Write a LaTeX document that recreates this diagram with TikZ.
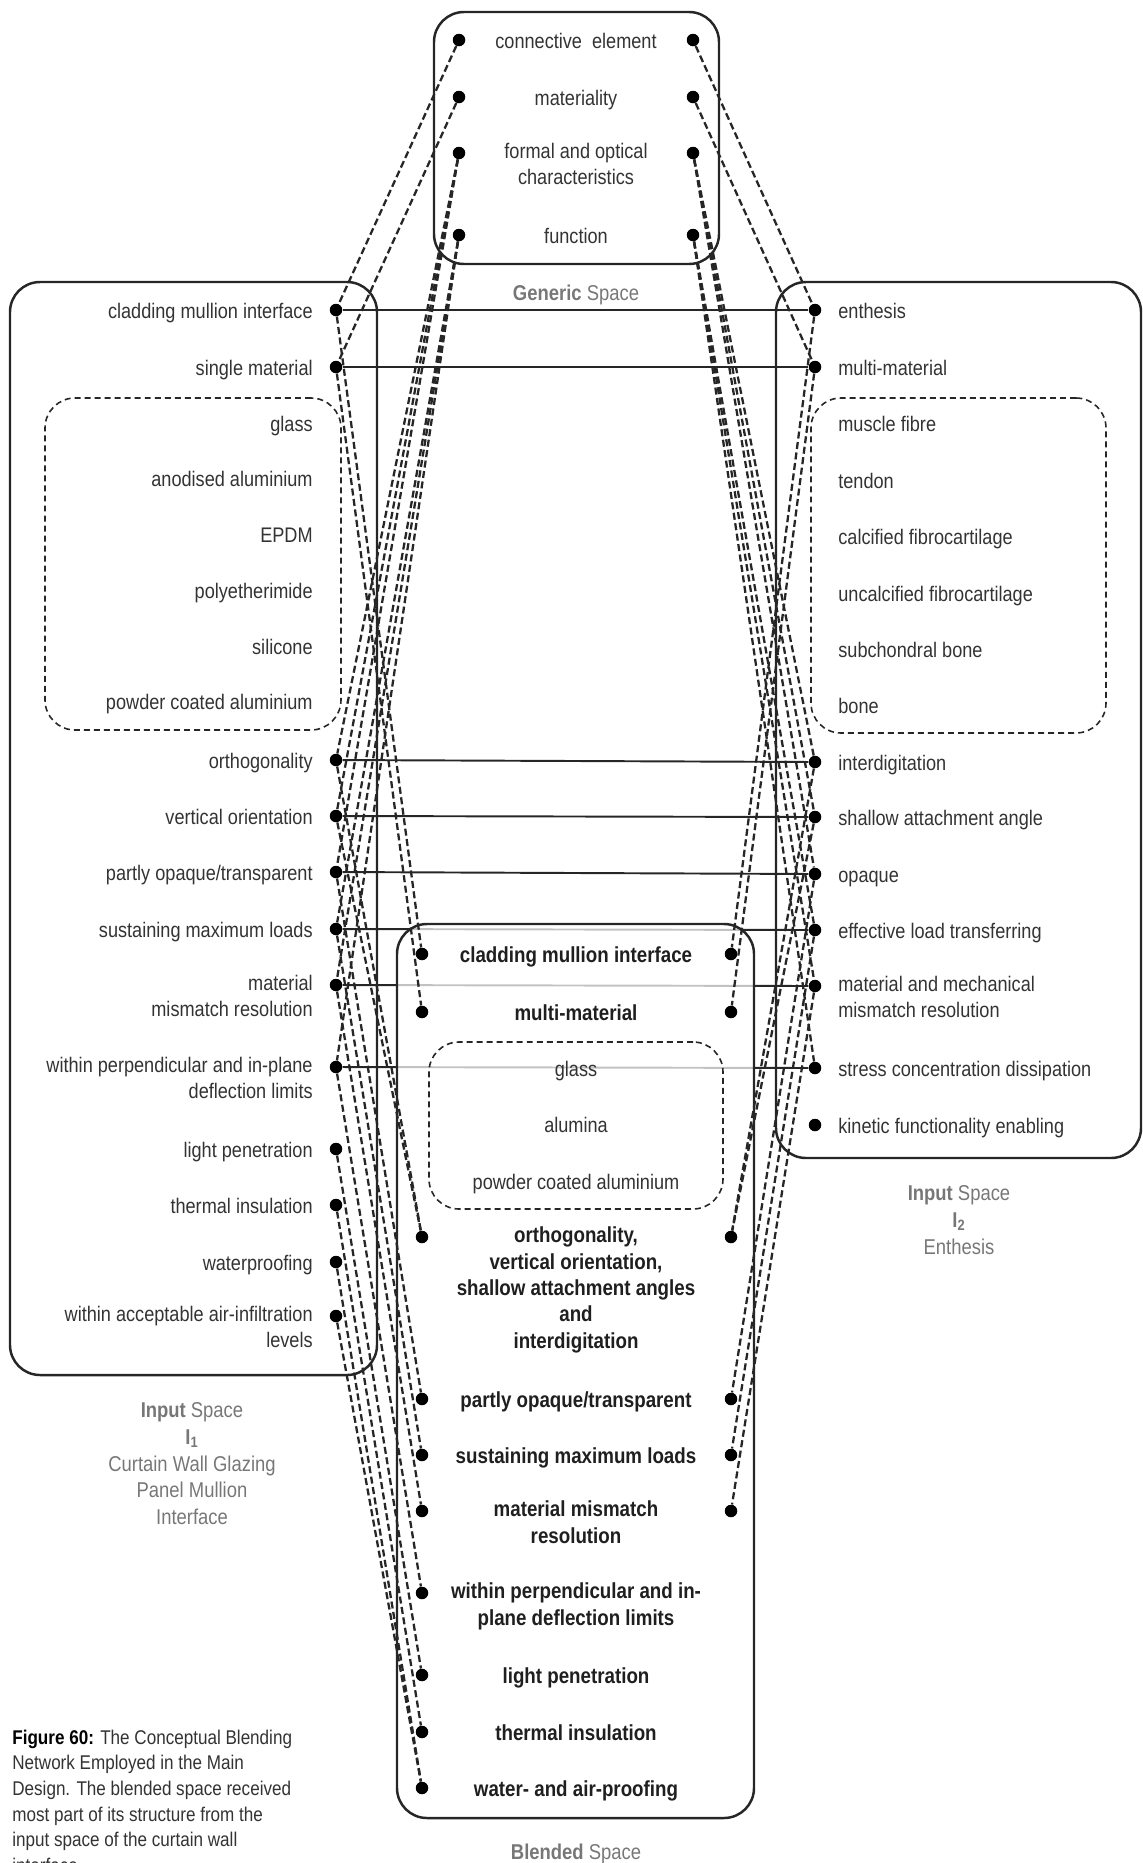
\documentclass[tikz,border=0pt]{standalone}
\usepackage{fontspec}
\setmainfont{Liberation Sans}[FakeStretch=0.86]
\usetikzlibrary{positioning,backgrounds}
\definecolor{ink}{HTML}{333333}
\definecolor{spacegrey}{HTML}{777777}
\newcommand{\itemfont}{\fontsize{12}{14.8}\selectfont}
\newcommand{\genitem}[3]{\node[dot] (gl#1) at (9.18,#2) {};
  \node[dot] (gr#1) at (13.86,#2) {};
  \node[midtext] (gen#1) at (11.52,#2) {#3};}
\newcommand{\leftitem}[3]{\node[dot] (#1) at (6.72,#2) {};
  \node[lefttext] (#1-t) at ([xshift=-0.46cm]#1.center) {#3};}
\newcommand{\rightitem}[3]{\node[dot] (#1) at (16.3,#2) {};
  \node[righttext] (#1-t) at ([xshift=0.46cm]#1.center) {#3};}

\begin{document}
\begin{tikzpicture}[
  dot/.style={circle,fill=black,inner sep=0pt,minimum size=0.25cm},
  basetext/.style={inner sep=0pt,text=ink,font=\itemfont,
    execute at begin node=\strut,yshift=5.9pt},
  lefttext/.style={basetext,anchor=north east,align=right},
  righttext/.style={basetext,anchor=north west,align=left},
  midtext/.style={basetext,anchor=north,align=center},
  blendtext/.style={midtext,text=black!88,font=\fontsize{12.4}{15}\selectfont\bfseries},
  spacetext/.style={midtext,text=spacegrey,font=\fontsize{12.2}{15.1}\selectfont},
  captiontext/.style={basetext,anchor=north west,align=left,
    font=\fontsize{11.3}{14.6}\selectfont,yshift=-1pt},
  frame/.style={draw=black!85,line width=1.4pt,rounded corners=0.6cm,inner sep=0pt},
  subframe/.style={frame,line width=0.9pt,dash pattern=on 3.4pt off 2.3pt},
  link/.style={draw=black!85,line width=1.3pt,dash pattern=on 4pt off 2pt},
  mapping/.style={draw=black!85,line width=1.1pt}]
\useasboundingbox (0,0) rectangle (22.86,-37.26);

% generic space
\genitem{1}{-0.80}{connective\ \ element}
\genitem{2}{-1.94}{materiality}
\genitem{3}{-3.06}{formal and optical\\characteristics}
\genitem{4}{-4.70}{function}
\node[spacetext] (genlabel) at (11.52,-5.84) {\textbf{Generic} Space};

% input space 1
\leftitem{lcmi}{-6.20}{cladding mullion interface}
\leftitem{lsm}{-7.34}{single material}
\node[lefttext] (lglass) at (6.26,-8.46) {glass};
\node[lefttext] (lanod) at (6.26,-9.56) {anodised aluminium};
\node[lefttext] (lepdm) at (6.26,-10.68) {EPDM};
\node[lefttext] (lpei) at (6.26,-11.80) {polyetherimide};
\node[lefttext] (lsil) at (6.26,-12.92) {silicone};
\node[lefttext] (lpca) at (6.26,-14.02) {powder coated aluminium};
\leftitem{lorth}{-15.20}{orthogonality}
\leftitem{lvert}{-16.32}{vertical orientation}
\leftitem{lpart}{-17.44}{partly opaque/transparent}
\leftitem{lsust}{-18.58}{sustaining maximum loads}
\leftitem{lmism}{-19.70}{material\\mismatch resolution}
\leftitem{ldefl}{-21.34}{within perpendicular and in-plane\\deflection limits}
\leftitem{llight}{-22.98}{light penetration}
\leftitem{ltherm}{-24.10}{thermal insulation}
\leftitem{lwater}{-25.24}{waterproofing}
\leftitem{lair}{-26.32}{within acceptable air-infiltration\\levels}
\node[spacetext] (inlabel1) at (3.84,-28.26)
  {\textbf{Input} Space\\\textbf{I\textsubscript{1}}\\Curtain Wall Glazing\\Panel Mullion\\Interface};

% input space 2
\rightitem{renth}{-6.20}{enthesis}
\rightitem{rmulti}{-7.34}{multi-material}
\node[righttext] (rmusc) at (16.76,-8.46) {muscle fibre};
\node[righttext] (rtend) at (16.76,-9.60) {tendon};
\node[righttext] (rcalc) at (16.76,-10.72) {calcified fibrocartilage};
\node[righttext] (runcalc) at (16.76,-11.86) {uncalcified fibrocartilage};
\node[righttext] (rsub) at (16.76,-12.98) {subchondral bone};
\node[righttext] (rbone) at (16.76,-14.10) {bone};
\rightitem{rinter}{-15.24}{interdigitation}
\rightitem{rshal}{-16.34}{shallow attachment angle}
\rightitem{ropaq}{-17.48}{opaque}
\rightitem{reff}{-18.60}{effective load transferring}
\rightitem{rmism}{-19.72}{material and mechanical\\mismatch resolution}
\rightitem{rstress}{-21.36}{stress concentration dissipation}
\rightitem{rkin}{-22.50}{kinetic functionality enabling}
\node[spacetext] (inlabel2) at (19.18,-23.92)
  {\textbf{Input} Space\\\textbf{I\textsubscript{2}}\\Enthesis};

% blended space
\node[blendtext] (bcmi) at (11.52,-19.08) {cladding mullion interface};
\node[dot] (bcmi-l) at (8.44,-19.08) {};
\node[dot] (bcmi-r) at (14.62,-19.08) {};
\node[blendtext] (bmm) at (11.52,-20.24) {multi-material};
\node[dot] (bmm-l) at (8.44,-20.24) {};
\node[dot] (bmm-r) at (14.62,-20.24) {};
\node[midtext] (bglass) at (11.52,-21.36) {glass};
\node[midtext] (balum) at (11.52,-22.48) {alumina};
\node[midtext] (bpca) at (11.52,-23.62) {powder coated aluminium};
\node[blendtext] (borth) at (11.52,-24.74)
  {orthogonality,\\vertical orientation,\\shallow attachment angles\\and\\interdigitation};
\node[dot] (borth-l) at (8.44,-24.74) {};
\node[dot] (borth-r) at (14.62,-24.74) {};
\node[blendtext] (bpart) at (11.52,-27.98) {partly opaque/transparent};
\node[dot] (bpart-l) at (8.44,-27.98) {};
\node[dot] (bpart-r) at (14.62,-27.98) {};
\node[blendtext] (bsust) at (11.52,-29.10) {sustaining maximum loads};
\node[dot] (bsust-l) at (8.44,-29.10) {};
\node[dot] (bsust-r) at (14.62,-29.10) {};
\node[blendtext] (bmism) at (11.52,-30.22) {material mismatch\\resolution};
\node[dot] (bmism-l) at (8.44,-30.22) {};
\node[dot] (bmism-r) at (14.62,-30.22) {};
\node[blendtext] (bdefl) at (11.52,-31.86) {within perpendicular and in-\\plane deflection limits};
\node[dot] (bdefl-l) at (8.44,-31.86) {};
\node[blendtext] (blight) at (11.52,-33.50) {light penetration};
\node[dot] (blight-l) at (8.44,-33.50) {};
\node[blendtext] (btherm) at (11.52,-34.64) {thermal insulation};
\node[dot] (btherm-l) at (8.44,-34.64) {};
\node[blendtext] (bwater) at (11.52,-35.76) {water- and air-proofing};
\node[dot] (bwater-l) at (8.44,-35.76) {};
\node[spacetext] (blendlabel) at (11.52,-37.02) {\textbf{Blended} Space};

\node[captiontext] (caption) at (0.24,-34.76)
  {{\color{black}\bfseries Figure 60:} The Conceptual Blending\\Network Employed in the Main\\Design. The blended space received\\most part of its structure from the\\input space of the curtain wall\\interface};

% frames and cross-space mappings sit behind everything
\begin{scope}[on background layer]
\node[frame,minimum width=5.70cm,minimum height=5.04cm] (generic) at (11.53,-2.76) {};
\node[frame,minimum width=7.34cm,minimum height=21.86cm] (input1) at (3.87,-16.57) {};
\node[subframe,minimum width=5.92cm,minimum height=6.64cm] (mat1) at (3.86,-11.28) {};
\node[frame,minimum width=7.30cm,minimum height=17.52cm] (input2) at (19.17,-14.40) {};
\node[subframe,minimum width=5.90cm,minimum height=6.70cm] (mat2) at (19.17,-11.31) {};
\draw[mapping] (lcmi) -- (renth);
\draw[mapping] (lsm) -- (rmulti);
\draw[mapping] (lorth) -- (rinter);
\draw[mapping] (lvert) -- (rshal);
\draw[mapping] (lpart) -- (ropaq);
\draw[mapping] (lsust) -- (reff);
\draw[mapping] (lmism) -- (rmism);
\draw[mapping] (ldefl) -- (rstress);
\node[frame,fill=white,fill opacity=0.72,minimum width=7.14cm,minimum height=17.88cm]
  (blended) at (11.51,-27.42) {};
\node[subframe,minimum width=5.88cm,minimum height=3.34cm] (matb) at (11.52,-22.51) {};
\end{scope}

% generic space to the inputs
\draw[link] (gl1) -- (lcmi);
\draw[link] (gl2) -- (lsm);
\draw[link] (gl3) -- (lorth);
\draw[link] (gl3) -- (lvert);
\draw[link] (gl3) -- (lpart);
\draw[link] (gl4) -- (lsust);
\draw[link] (gl4) -- (lmism);
\draw[link] (gl4) -- (ldefl);
\draw[link] (gr1) -- (renth);
\draw[link] (gr2) -- (rmulti);
\draw[link] (gr3) -- (rinter);
\draw[link] (gr3) -- (rshal);
\draw[link] (gr3) -- (ropaq);
\draw[link] (gr4) -- (reff);
\draw[link] (gr4) -- (rmism);
\draw[link] (gr4) -- (rstress);
% input spaces projected into the blend
\draw[link] (lcmi) -- (bcmi-l);
\draw[link] (lsm) -- (bmm-l);
\draw[link] (lorth) -- (borth-l);
\draw[link] (lvert) -- (borth-l);
\draw[link] (lpart) -- (bpart-l);
\draw[link] (lsust) -- (bsust-l);
\draw[link] (lmism) -- (bmism-l);
\draw[link] (ldefl) -- (bdefl-l);
\draw[link] (llight) -- (blight-l);
\draw[link] (ltherm) -- (btherm-l);
\draw[link] (lwater) -- (bwater-l);
\draw[link] (lair) -- (bwater-l);
\draw[link] (renth) -- (bcmi-r);
\draw[link] (rmulti) -- (bmm-r);
\draw[link] (rinter) -- (borth-r);
\draw[link] (rshal) -- (borth-r);
\draw[link] (ropaq) -- (bpart-r);
\draw[link] (reff) -- (bsust-r);
\draw[link] (rmism) -- (bmism-r);
\end{tikzpicture}
\end{document}
